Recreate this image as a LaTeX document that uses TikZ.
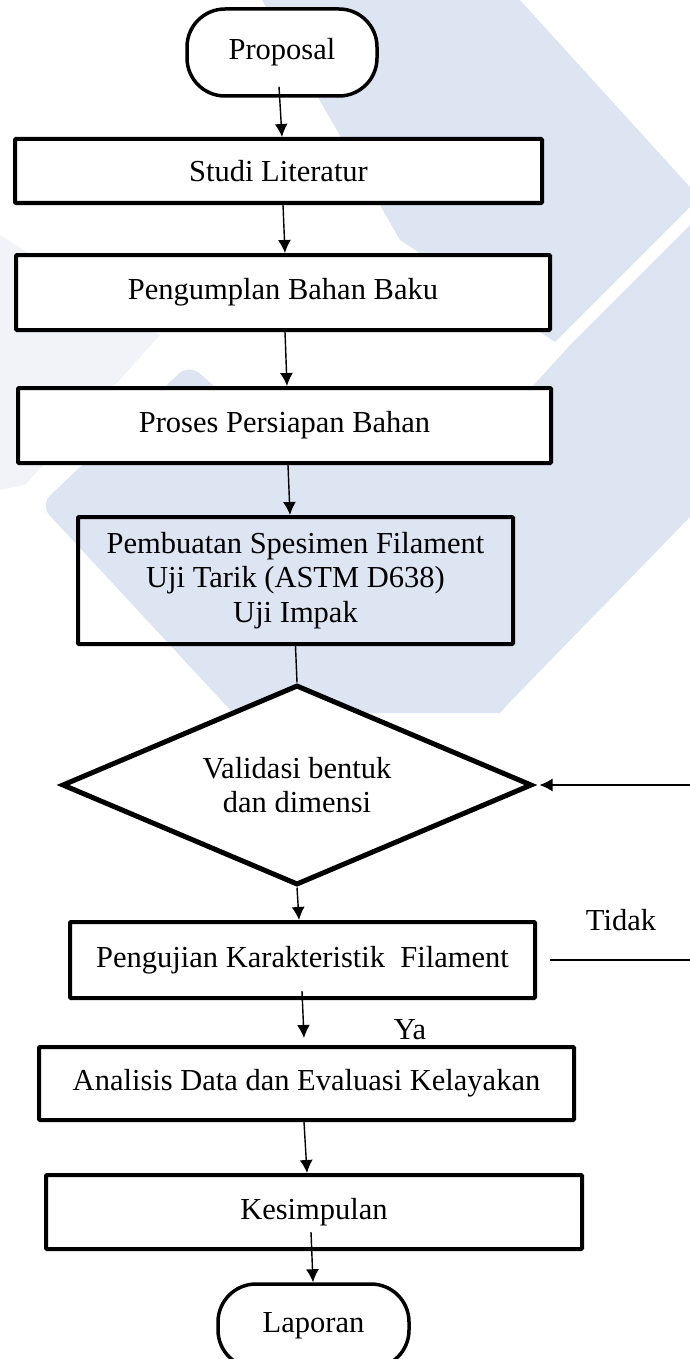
\documentclass[tikz,border=0pt]{standalone}
\usepackage{fontspec}
\setmainfont{Liberation Serif}
\usetikzlibrary{arrows.meta,shapes.geometric}
\definecolor{wmblue}{RGB}{221,228,242}
\definecolor{wmfaint}{RGB}{241,243,248}
\begin{document}
\begin{tikzpicture}[x=1pt,y=-1pt,
  txt/.style={font=\fontsize{30.5}{34.5}\selectfont, text=black},
  procbox/.style={txt,draw,line width=4pt,fill=white,inner sep=0pt,rounded corners=1pt},
  termbox/.style={txt,draw,line width=3.5pt,fill=white,inner sep=0pt,rounded corners=38pt},
  decbox/.style={txt,draw,shape=diamond,aspect=2.35,line width=5pt,fill=white,inner sep=0pt,align=center},
  conn/.style={line width=1.4pt},
  arr/.style={conn,-{Latex[length=13pt,width=13pt]}},
  lbl/.style={txt}]
\useasboundingbox (0,0) rectangle (690,1359);
% watermark
\fill[wmfaint] (0,235) -- (160,335) -- (25,485) -- (0,490) -- cycle;
\fill[wmblue] (262,0) -- (520,0) -- (690,187) -- (690,207) -- (555,342) -- (400,240) -- cycle;
\fill[wmblue] (690,225) -- (690,517) -- (508,704) -- (500,713) -- (233,713)
  [rounded corners=14pt] -- (40,505) -- (189,364) [sharp corners] -- (230,400) -- (520,400) -- (572,343) -- cycle;
% nodes
\node[termbox,minimum width=190pt,minimum height=87pt] (prop) at (282,52.5) {Proposal};
\node[procbox,minimum width=527pt,minimum height=64pt] (studi) at (278.5,171) {Studi Literatur};
\node[procbox,minimum width=534pt,minimum height=75pt] (kumpul) at (283,292.5) {Pengumplan Bahan Baku};
\node[procbox,minimum width=533pt,minimum height=75pt] (siap) at (284.5,425.5) {Proses Persiapan Bahan};
\node[procbox,fill=none,minimum width=435pt,minimum height=127pt,align=center] (buat) at (295.5,580.5) {Pembuatan Spesimen Filament\\Uji Tarik (ASTM D638)\\Uji Impak};
\node[decbox,minimum width=470pt,minimum height=200pt] (valid) at (297,785) {Validasi bentuk\\dan dimensi};
\node[procbox,minimum width=465pt,minimum height=76pt] (uji) at (302.5,960) {Pengujian Karakteristik\ \ Filament};
\node[procbox,minimum width=535pt,minimum height=73pt] (analisis) at (306.5,1083.5) {Analisis Data dan Evaluasi Kelayakan};
\node[procbox,minimum width=536pt,minimum height=74pt] (simpul) at (314,1212) {Kesimpulan};
\node[termbox,minimum width=191pt,minimum height=84pt] (lapor) at (313.5,1326) {Laporan};
\node[lbl] (tidak) at (621,920) {Tidak};
\node[lbl] (ya) at (410,1030) {Ya};
% connectors
\draw[arr] ([xshift=-3pt,yshift=11pt]prop.south) -- ([xshift=3.5pt]studi.north);
\draw[arr] ([xshift=4.5pt]studi.south) -- ([xshift=2pt]kumpul.north);
\draw[arr] ([xshift=2pt]kumpul.south) -- ([xshift=2.5pt]siap.north);
\draw[arr] ([xshift=3.5pt]siap.south) -- ([xshift=-5.5pt]buat.north);
\draw[conn] (buat.south) -- (valid.north);
\draw[arr] (valid.south) -- ([xshift=-3.5pt]uji.north);
\draw[arr] ([xshift=-0.5pt,yshift=9pt]uji.south) -- ([xshift=-2.5pt,yshift=7pt]analisis.north);
\draw[arr] ([xshift=-2.5pt]analisis.south) -- ([xshift=-7pt]simpul.north);
\draw[arr] ([xshift=-3pt,yshift=19pt]simpul.south) -- ([xshift=-0.5pt]lapor.north);
\coordinate (loopA) at (700,960);
\draw[arr] ([xshift=13pt]uji.east) -- (loopA) |- ([xshift=5pt]valid.east);
\end{tikzpicture}
\end{document}
